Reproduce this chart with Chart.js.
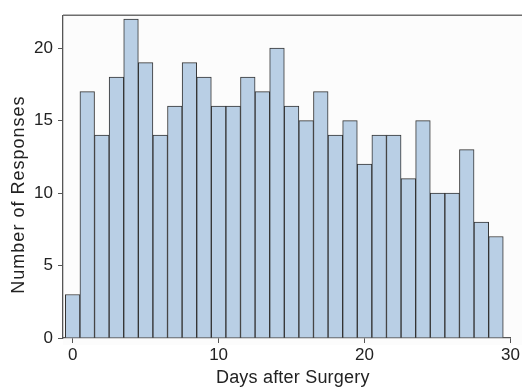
<!DOCTYPE html>
<html>
<head>
<meta charset="utf-8">
<script src="https://cdn.jsdelivr.net/npm/chart.js@4.4.1/dist/chart.umd.min.js"></script>
<style>
  html, body { margin: 0; padding: 0; background: #fff; }
  #wrap { width: 522px; height: 389px; }
</style>
</head>
<body>
<div id="wrap"><canvas id="chart" width="522" height="389"></canvas></div>
<script>
// days after surgery (bin centres) and number of responses per day
var days = [0, 1, 2, 3, 4, 5, 6, 7, 8, 9, 10, 11, 12, 13, 14, 15, 16, 17, 18, 19, 20, 21, 22, 23, 24, 25, 26, 27, 28, 29];
var responses = [3, 17, 14, 18, 22, 19, 14, 16, 19, 18, 16, 16, 18, 17, 20, 16, 15, 17, 14, 15, 12, 14, 14, 11, 15, 10, 10, 13, 8, 7];
var xTicks = [0, 10, 20, 30];
var yTicks = [0, 5, 10, 15, 20];
var xTitle = 'Days after Surgery';
var yTitle = 'Number of Responses';

var points = days.map(function (d, i) { return { x: d, y: responses[i] }; });

var fontFam = "'Liberation Sans', Arial, sans-serif";

// light plot background, top frame line and the two axis titles
var framePlugin = {
  id: 'frame',
  beforeDraw: function (chart) {
    var a = chart.chartArea, ctx = chart.ctx;
    ctx.save();
    ctx.fillStyle = '#fcfcfc';
    ctx.fillRect(a.left, a.top, chart.width - a.left, a.bottom - a.top + 7);
    ctx.restore();
  },
  afterDraw: function (chart) {
    var a = chart.chartArea, ctx = chart.ctx;
    ctx.save();
    ctx.strokeStyle = '#6e6e6e';
    ctx.lineWidth = 1.5;
    ctx.beginPath();
    ctx.moveTo(a.left, a.top);
    ctx.lineTo(chart.width, a.top);
    ctx.stroke();

    ctx.fillStyle = '#222';
    ctx.font = '18px ' + fontFam;
    ctx.textAlign = 'center';
    ctx.textBaseline = 'alphabetic';
    ctx.letterSpacing = '0.2px';
    ctx.fillText(xTitle, (a.left + a.right) / 2 + 6, 383);

    ctx.letterSpacing = '1px';
    ctx.translate(24, (a.top + a.bottom) / 2 + 18);
    ctx.rotate(-Math.PI / 2);
    ctx.fillText(yTitle, 0, 0);
    ctx.restore();
  }
};

new Chart(document.getElementById('chart'), {
  type: 'bar',
  data: {
    datasets: [{
      data: points,
      backgroundColor: '#b9cfe5',
      borderColor: '#333333',
      borderWidth: 1,
      borderSkipped: 'bottom',
      barPercentage: 1,
      categoryPercentage: 1
    }]
  },
  options: {
    responsive: false,
    animation: false,
    layout: { padding: { top: 12, right: 9, left: 0, bottom: 0 } },
    plugins: { legend: { display: false }, tooltip: { enabled: false } },
    scales: {
      x: {
        type: 'linear',
        min: -0.66,
        max: 30,
        offset: false,
        afterBuildTicks: function (s) { s.ticks = xTicks.map(function (v) { return { value: v }; }); },
        afterFit: function (s) { s.height = 51; },
        grid: { offset: false, drawOnChartArea: false, tickLength: 5, color: '#555', tickColor: '#555' },
        border: { color: '#555', width: 1.3 },
        ticks: { color: '#222', font: { family: fontFam, size: 17 }, padding: 2, maxRotation: 0 },
        title: { display: false }
      },
      y: {
        min: 0,
        max: 22.27,
        afterBuildTicks: function (s) { s.ticks = yTicks.map(function (v) { return { value: v }; }); },
        afterFit: function (s) { s.width = 63; },
        grid: { drawOnChartArea: false, tickLength: 5, color: '#555', tickColor: '#555' },
        border: { color: '#555', width: 1.3 },
        ticks: { color: '#222', font: { family: fontFam, size: 17 }, padding: 5 },
        title: { display: false }
      }
    }
  },
  plugins: [framePlugin]
});
</script>
</body>
</html>
